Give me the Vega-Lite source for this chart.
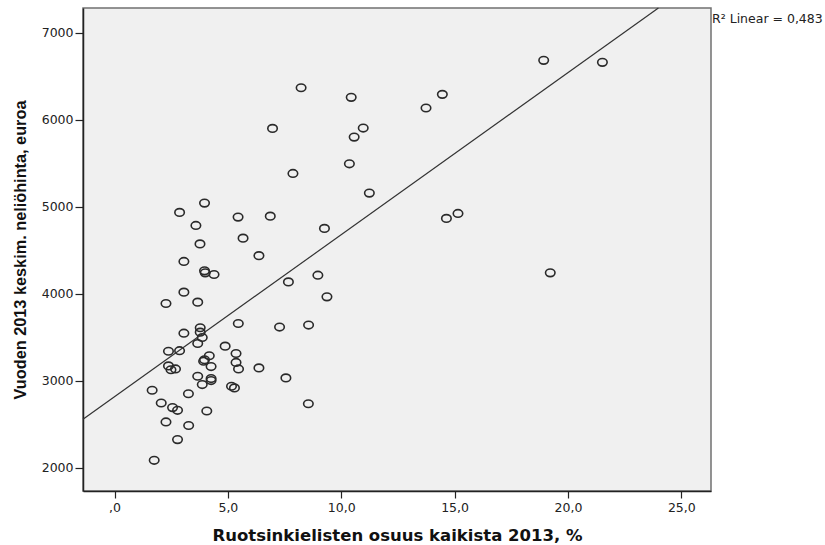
{
  "$schema": "https://vega.github.io/schema/vega-lite/v6.json",
  "width": 628,
  "height": 483,
  "autosize": {"type": "none"},
  "padding": {"left": 83, "top": 8, "right": 114, "bottom": 54},
  "background": "white",
  "config": {
    "view": {"fill": "#f0f0f0", "stroke": "#707070", "strokeWidth": 1.5},
    "font": "DejaVu Sans"
  },
  "datasets": {
    "points": [
      {"pct": 1.66, "price": 2889}, {"pct": 1.75, "price": 2084}, {"pct": 2.06, "price": 2743},
      {"pct": 2.27, "price": 2525}, {"pct": 2.27, "price": 3887}, {"pct": 2.38, "price": 3338},
      {"pct": 2.38, "price": 3169}, {"pct": 2.49, "price": 3125}, {"pct": 2.56, "price": 2690},
      {"pct": 2.69, "price": 3134}, {"pct": 2.78, "price": 2659}, {"pct": 2.78, "price": 2322},
      {"pct": 2.87, "price": 3344}, {"pct": 2.87, "price": 4934}, {"pct": 3.06, "price": 4017},
      {"pct": 3.06, "price": 3545}, {"pct": 3.06, "price": 4370}, {"pct": 3.26, "price": 2849},
      {"pct": 3.27, "price": 2484}, {"pct": 3.59, "price": 4784}, {"pct": 3.67, "price": 3902},
      {"pct": 3.67, "price": 3427}, {"pct": 3.67, "price": 3050}, {"pct": 3.77, "price": 4572},
      {"pct": 3.78, "price": 3608}, {"pct": 3.78, "price": 3557}, {"pct": 3.87, "price": 3496},
      {"pct": 3.87, "price": 2955}, {"pct": 3.97, "price": 5041}, {"pct": 3.97, "price": 4262},
      {"pct": 4.0, "price": 4239}, {"pct": 3.97, "price": 3240}, {"pct": 3.93, "price": 3223},
      {"pct": 4.07, "price": 2651}, {"pct": 4.18, "price": 3286}, {"pct": 4.26, "price": 3162},
      {"pct": 4.26, "price": 3024}, {"pct": 4.26, "price": 3001}, {"pct": 4.39, "price": 4220},
      {"pct": 4.88, "price": 3396}, {"pct": 5.16, "price": 2935}, {"pct": 5.29, "price": 2916},
      {"pct": 5.36, "price": 3312}, {"pct": 5.36, "price": 3209}, {"pct": 5.45, "price": 4880},
      {"pct": 5.46, "price": 3657}, {"pct": 5.47, "price": 3134}, {"pct": 5.67, "price": 4638},
      {"pct": 6.37, "price": 4437}, {"pct": 6.37, "price": 3146}, {"pct": 6.87, "price": 4891},
      {"pct": 6.97, "price": 5900}, {"pct": 7.28, "price": 3616}, {"pct": 7.56, "price": 3031},
      {"pct": 7.67, "price": 4135}, {"pct": 7.87, "price": 5382}, {"pct": 8.23, "price": 6367},
      {"pct": 8.56, "price": 3639}, {"pct": 8.55, "price": 2734}, {"pct": 8.97, "price": 4212},
      {"pct": 9.26, "price": 4750}, {"pct": 9.37, "price": 3963}, {"pct": 10.36, "price": 5493},
      {"pct": 10.44, "price": 6257}, {"pct": 10.57, "price": 5800}, {"pct": 10.97, "price": 5904},
      {"pct": 11.24, "price": 5156}, {"pct": 13.74, "price": 6134}, {"pct": 14.46, "price": 6291},
      {"pct": 14.64, "price": 4865}, {"pct": 15.15, "price": 4922}, {"pct": 18.93, "price": 6682},
      {"pct": 19.22, "price": 4239}, {"pct": 21.52, "price": 6659}
    ],
    "fit": [
      {"pct": -1.39, "price": 2556},
      {"pct": 23.99, "price": 7284}
    ],
    "note": [
      {"pct": 26.31, "price": 7160, "label": "R² Linear = 0,483"}
    ]
  },
  "layer": [
    {
      "data": {"name": "points"},
      "mark": {
        "type": "point",
        "shape": "M-1,0A1,0.8 0 1,0 1,0A1,0.8 0 1,0 -1,0Z",
        "size": 90,
        "filled": false,
        "stroke": "#2a2a2a",
        "strokeWidth": 1.6,
        "opacity": 1
      },
      "encoding": {
        "x": {
          "field": "pct",
          "type": "quantitative",
          "scale": {"domain": [-1.39, 26.31], "nice": false, "zero": false},
          "axis": {
            "title": "Ruotsinkielisten osuus kaikista 2013, %",
            "values": [0, 5, 10, 15, 20, 25],
            "labelExpr": "datum.value == 0 ? ',0' : replace(format(datum.value, '.1f'), '.', ',')",
            "grid": false,
            "domainColor": "#222222",
            "domainWidth": 1.5,
            "tickColor": "#222222",
            "tickSize": 7,
            "tickWidth": 1.2,
            "labelFont": "DejaVu Sans",
            "labelFontSize": 12.5,
            "labelColor": "#222222",
            "labelPadding": 3,
            "titleFont": "DejaVu Sans",
            "titleFontWeight": "bold",
            "titleFontSize": 16.5,
            "titleColor": "#111111",
            "titlePadding": 14
          }
        },
        "y": {
          "field": "price",
          "type": "quantitative",
          "scale": {"domain": [1731, 7284], "nice": false, "zero": false},
          "axis": {
            "title": "Vuoden 2013 keskim. neliöhinta, euroa",
            "values": [2000, 3000, 4000, 5000, 6000, 7000],
            "format": "d",
            "grid": false,
            "domainColor": "#222222",
            "domainWidth": 1.5,
            "tickColor": "#222222",
            "tickSize": 8,
            "tickWidth": 1.2,
            "labelFont": "DejaVu Sans",
            "labelFontSize": 12.5,
            "labelColor": "#222222",
            "labelPadding": 2,
            "titleFont": "Liberation Sans",
            "titleFontWeight": "bold",
            "titleFontSize": 16.3,
            "titleColor": "#111111",
            "titlePadding": 13
          }
        }
      }
    },
    {
      "data": {"name": "fit"},
      "mark": {"type": "line", "color": "#333333", "strokeWidth": 1.2},
      "encoding": {
        "x": {"field": "pct", "type": "quantitative"},
        "y": {"field": "price", "type": "quantitative"}
      }
    },
    {
      "data": {"name": "note"},
      "mark": {
        "type": "text",
        "align": "left",
        "baseline": "middle",
        "dx": 1,
        "font": "DejaVu Sans",
        "fontSize": 12.5,
        "color": "#222222"
      },
      "encoding": {
        "x": {"field": "pct", "type": "quantitative"},
        "y": {"field": "price", "type": "quantitative"},
        "text": {"field": "label"}
      }
    }
  ]
}
